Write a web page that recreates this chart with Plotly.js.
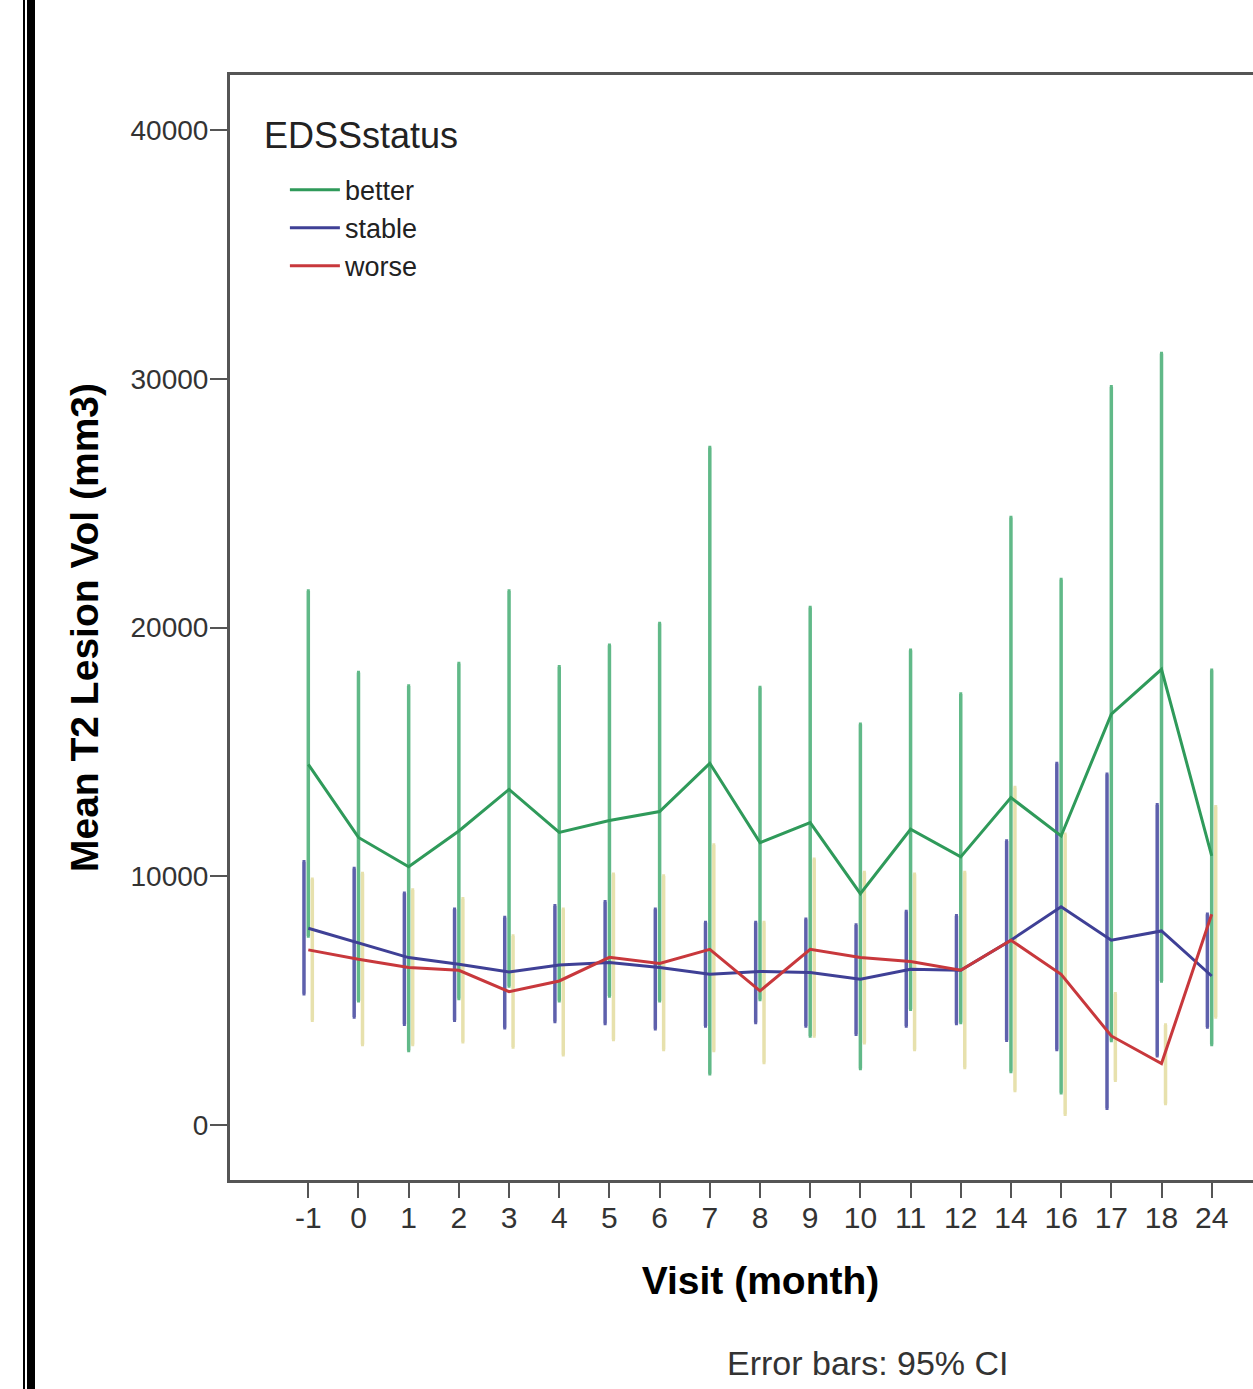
<!DOCTYPE html>
<html><head><meta charset="utf-8">
<script src="https://cdn.plot.ly/plotly-3.0.1.min.js"></script>
<style>
html,body{margin:0;padding:0;background:#fff;overflow:hidden;width:1253px;height:1389px;}
#chart{position:absolute;left:0;top:0;width:1310px;height:1389px;}
.b1{position:absolute;left:23px;top:0;width:2px;height:1389px;background:#000;}
.b2{position:absolute;left:27px;top:0;width:8px;height:1389px;background:#000;}
</style></head>
<body>
<div id="chart"></div>
<div class="b1"></div><div class="b2"></div>
<script>
const visits = ['-1','0','1','2','3','4','5','6','7','8','9','10','11','12','14','16','17','18','24'];

const betterMean  = [14500, 11560, 10380, 11820, 13490, 11760, 12240, 12600, 14540, 11350, 12160, 9300, 11890, 10780, 13160, 11620, 16520, 18320, 10820];
const betterUpper = [21470, 18190, 17650, 18550, 21470, 18420, 19290, 20160, 27240, 17590, 20800, 16110, 19090, 17330, 24420, 21930, 29680, 31020, 18280];
const betterLower = [7600, 4990, 3000, 5090, 5590, 4990, 5190, 4990, 2060, 5050, 3580, 2270, 4650, 4120, 2150, 1300, 3400, 5790, 3240];

const stableMean  = [7910, 7330, 6730, 6460, 6150, 6430, 6530, 6330, 6060, 6170, 6130, 5860, 6260, 6220, 7430, 8770, 7430, 7800, 5990];
const stableUpper = [10580, 10310, 9320, 8670, 8340, 8810, 8970, 8670, 8140, 8140, 8270, 8040, 8580, 8410, 11420, 14530, 14100, 12870, 8470];
const stableLower = [5280, 4340, 4050, 4210, 3910, 4160, 4080, 3870, 3980, 4120, 3980, 3650, 3980, 4080, 3410, 3040, 670, 2780, 3940];

const worseMean  = [7040, 6660, 6330, 6220, 5360, 5790, 6740, 6490, 7060, 5390, 7060, 6730, 6570, 6220, 7430, 6060, 3580, 2470, 8470];
const worseUpper = [9880, 10110, 9450, 9100, 7600, 8670, 10080, 10010, 11260, 8140, 10680, 10150, 10080, 10150, 13570, 11690, 5280, 4020, 12790];
const worseLower = [4210, 3240, 3240, 3350, 3140, 2820, 3440, 3040, 3000, 2510, 3580, 3310, 3040, 2310, 1390, 430, 1800, 860, 4340];

const yTicks = [0, 10000, 20000, 30000, 40000];
const legendTitle = 'EDSSstatus';

const FONT = 'Liberation Sans, Arial, Helvetica, sans-serif';
const idx = visits.map((v, i) => i);

function errTrace(mean, upper, lower, offset, color) {
  return {
    x: idx.map(i => i + offset),
    y: mean,
    type: 'scatter',
    mode: 'markers',
    marker: {size: 1, color: 'rgba(0,0,0,0)'},
    showlegend: false,
    hoverinfo: 'skip',
    error_y: {
      type: 'data', symmetric: false, visible: true,
      array: upper.map((u, i) => u - mean[i]),
      arrayminus: lower.map((l, i) => mean[i] - l),
      color: color, thickness: 3.5, width: 1.5
    }
  };
}
function lineTrace(mean, name, color) {
  return {
    x: idx, y: mean, type: 'scatter', mode: 'lines', name: name,
    line: {color: color, width: 3}
  };
}

const data = [
  errTrace(stableMean, stableUpper, stableLower, -0.086, 'rgba(66,68,158,0.85)'),
  errTrace(worseMean, worseUpper, worseLower, 0.08, 'rgba(228,222,164,0.9)'),
  errTrace(betterMean, betterUpper, betterLower, 0, 'rgba(58,168,106,0.8)'),
  lineTrace(betterMean, 'better', '#2f9a5a'),
  lineTrace(stableMean, 'stable', '#3f4096'),
  lineTrace(worseMean, 'worse', '#c8383c')
];

const layout = {
  width: 1310, height: 1389,
  margin: {l: 230, r: 19, t: 75, b: 209, pad: 0},
  paper_bgcolor: '#fff', plot_bgcolor: '#fff',
  font: {family: FONT, color: '#222'},
  showlegend: true,
  legend: {
    x: 0.031, y: 0.918, xanchor: 'left', yanchor: 'top',
    bgcolor: 'rgba(0,0,0,0)',
    font: {size: 27, color: '#222', family: FONT},
    itemwidth: 50, indentation: 22, tracegroupgap: 0
  },
  xaxis: {
    range: [-1.56, 19.58],
    tickmode: 'array', tickvals: idx, ticktext: visits,
    ticks: 'outside', ticklen: 15, tickwidth: 2, tickcolor: '#555',
    ticklabelstandoff: -6,
    showline: true, linecolor: '#555', linewidth: 3, mirror: true,
    showgrid: false, zeroline: false,
    tickfont: {size: 30, color: '#333', family: FONT},
    title: {text: 'Visit (month)', standoff: 34, font: {size: 39, color: '#000', family: FONT, weight: 'bold'}}
  },
  yaxis: {
    range: [-2211, 42211],
    tickmode: 'array', tickvals: yTicks, tickformat: 'd',
    ticks: 'outside', ticklen: 17, tickwidth: 2, tickcolor: '#555',
    ticklabelstandoff: -4,
    showline: true, linecolor: '#555', linewidth: 3,
    showgrid: false, zeroline: false,
    tickfont: {size: 28, color: '#333', family: FONT},
    title: {text: 'Mean T2 Lesion Vol (mm3)', standoff: 20, font: {size: 39, color: '#000', family: FONT, weight: 'bold'}}
  },
  annotations: [{
    text: legendTitle, xref: 'paper', yref: 'paper',
    x: 0.0302, y: 0.9457, xanchor: 'left', yanchor: 'middle',
    showarrow: false, font: {size: 36, color: '#222', family: FONT}
  }, {
    text: 'Error bars: 95% CI', xref: 'paper', yref: 'paper',
    x: 0.601, y: -0.1656, xanchor: 'center', yanchor: 'middle',
    showarrow: false, font: {size: 34, color: '#333', family: FONT}
  }]
};

Plotly.newPlot('chart', data, layout, {displayModeBar: false, staticPlot: true});
</script>
</body></html>
